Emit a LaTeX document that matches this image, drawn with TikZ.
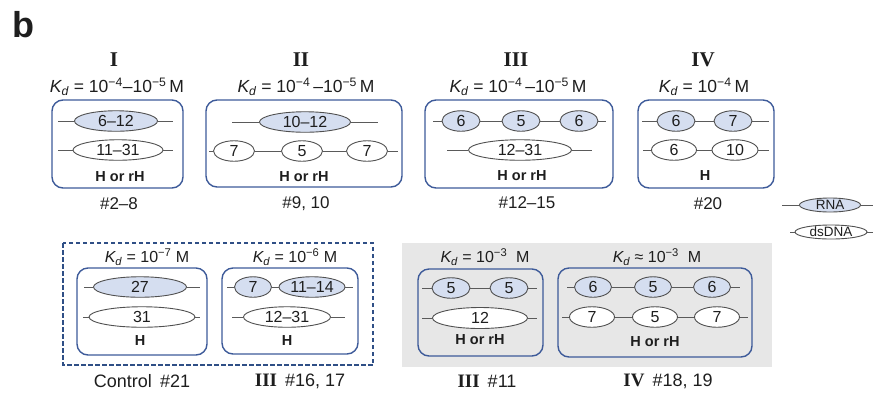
\documentclass[tikz,border=0pt]{standalone}
\usepackage{fontspec}
\setmainfont{Liberation Sans}
\newfontfamily\romfont{Liberation Serif}
\usetikzlibrary{shapes.geometric}
\definecolor{boxblue}{HTML}{3D5A99}
\definecolor{dashblue}{HTML}{2F4F86}
\definecolor{rnafill}{HTML}{D5DEF0}
\definecolor{elgray}{HTML}{505050}
\definecolor{linegray}{HTML}{5A5A5A}
\definecolor{graybg}{HTML}{E7E7E7}
\definecolor{txt}{HTML}{1E1E1E}
\newcommand{\KdSym}{{\itshape K}\textsubscript{\itshape d}}
\newcommand{\sps}[1]{\textsuperscript{#1}}
\newcommand{\romsmall}[1]{{\romfont\bfseries\fontsize{19}{19}\selectfont #1}}
\tikzset{
  seg/.style={ellipse, draw=elgray, line width=0.9pt, inner sep=0pt, minimum height=20.5pt,
    text=txt, font=\fontsize{16}{16}\selectfont},
  rna/.style={seg, fill=rnafill},
  dna/.style={seg, fill=white},
  lrna/.style={rna, minimum height=14pt, font=\fontsize{13.5}{13.5}\selectfont},
  ldna/.style={dna, minimum height=14pt, font=\fontsize{13.5}{13.5}\selectfont},
  strand/.style={draw=linegray, line width=0.9pt},
  grp/.style={draw=boxblue, line width=1.4pt, rounded corners=11pt},
  roman/.style={text=txt, font=\fontsize{21}{21}\selectfont\romfont\bfseries},
  kd/.style={text=txt, font=\fontsize{17.5}{17.5}\selectfont},
  kds/.style={text=txt, font=\fontsize{16}{16}\selectfont},
  htxt/.style={text=txt, font=\fontsize{14.5}{14.5}\selectfont\bfseries},
  num/.style={text=txt, font=\fontsize{17}{17}\selectfont},
  num2/.style={text=txt, font=\fontsize{18}{18}\selectfont},
}
\begin{document}
\begin{tikzpicture}[x=1pt,y=-1pt]
\useasboundingbox (0,0) rectangle (873,392);
\node[text=txt, font=\fontsize{36}{36}\selectfont\bfseries] (blabel) at (23,25) {b};

% ---------------- Group I
\node[roman] (rI) at (114,60) {I};
\node[kd] (kI) at (117,87) {\KdSym{} = 10\sps{−4}–10\sps{−5}\,M};
\draw[grp] (52,100) rectangle (183,188);
\coordinate (Ia1) at (58,121); \coordinate (Ia2) at (173,121);
\node[rna, minimum width=83pt] (Ie1) at (116,121) {6–12};
\draw[strand] (Ia1) -- (Ie1) -- (Ia2);
\coordinate (Ib1) at (58,150); \coordinate (Ib2) at (173,150);
\node[dna, minimum width=90pt] (If1) at (118,150) {11–31};
\draw[strand] (Ib1) -- (If1) -- (Ib2);
\node[htxt] (Ih) at (120,177) {H or rH};
\node[num] (In) at (119,204) {\#2–8};

% ---------------- Group II
\node[roman] (rII) at (301,60) {II};
\node[kd] (kII) at (306,87) {\KdSym{} = 10\sps{−4}\,–10\sps{−5}\,M};
\draw[grp] (206,100) rectangle (402,187);
\coordinate (IIa1) at (232,122); \coordinate (IIa2) at (378,122);
\node[rna, minimum width=91pt] (IIe1) at (305,122) {10–12};
\draw[strand] (IIa1) -- (IIe1) -- (IIa2);
\coordinate (IIb1) at (209,151); \coordinate (IIb2) at (398,151);
\node[dna, minimum width=41pt] (IIf1) at (234,151) {7};
\node[dna, minimum width=41pt] (IIf2) at (302,151) {5};
\node[dna, minimum width=41pt] (IIf3) at (367,151) {7};
\draw[strand] (IIb1) -- (IIf1) -- (IIf2) -- (IIf3) -- (IIb2);
\node[htxt] (IIh) at (304,177) {H or rH};
\node[num] (IIn) at (306,204) {\#9, 10};

% ---------------- Group III
\node[roman] (rIII) at (516,60) {III};
\node[kd] (kIII) at (518,87) {\KdSym{} = 10\sps{−4}\,–10\sps{−5}\,M};
\draw[grp] (425,100) rectangle (613,188);
\coordinate (IIIa1) at (433,121); \coordinate (IIIa2) at (606,121);
\node[rna, minimum width=38pt] (IIIe1) at (461,121) {6};
\node[rna, minimum width=38pt] (IIIe2) at (521,121) {5};
\node[rna, minimum width=38pt] (IIIe3) at (579,121) {6};
\draw[strand] (IIIa1) -- (IIIe1) -- (IIIe2) -- (IIIe3) -- (IIIa2);
\coordinate (IIIb1) at (447,150); \coordinate (IIIb2) at (592,150);
\node[dna, minimum width=103pt] (IIIf1) at (520,150) {12–31};
\draw[strand] (IIIb1) -- (IIIf1) -- (IIIb2);
\node[htxt] (IIIh) at (522,176) {H or rH};
\node[num] (IIIn) at (527,203) {\#12–15};

% ---------------- Group IV
\node[roman] (rIV) at (703,60) {IV};
\node[kd] (kIV) at (704,87) {\KdSym{} = 10\sps{−4}\,M};
\draw[grp] (638,100) rectangle (774,188);
\coordinate (IVa1) at (642,121); \coordinate (IVa2) at (769,121);
\node[rna, minimum width=38pt] (IVe1) at (676,121) {6};
\node[rna, minimum width=38pt] (IVe2) at (733,121) {7};
\draw[strand] (IVa1) -- (IVe1) -- (IVe2) -- (IVa2);
\coordinate (IVb1) at (643,150); \coordinate (IVb2) at (769,150);
\node[dna, minimum width=45pt] (IVf1) at (674,150) {6};
\node[dna, minimum width=46pt] (IVf2) at (735,150) {10};
\draw[strand] (IVb1) -- (IVf1) -- (IVf2) -- (IVb2);
\node[htxt] (IVh) at (705,176) {H};
\node[num] (IVn) at (708,204) {\#20};

% ---------------- Legend
\coordinate (La1) at (782,205); \coordinate (La2) at (873,205);
\node[lrna, minimum width=61pt] (Le1) at (830,205) {RNA};
\draw[strand] (La1) -- (Le1) -- (La2);
\coordinate (Lb1) at (790,232); \coordinate (Lb2) at (873,232);
\node[ldna, minimum width=72pt] (Lf1) at (831,232) {dsDNA};
\draw[strand] (Lb1) -- (Lf1) -- (Lb2);

% ---------------- Dashed control frame
\draw[draw=dashblue, line width=1.6pt, dash pattern=on 4.5pt off 2.5pt] (63,243) rectangle (373,365);

% Control
\node[kds] (kC) at (147,257) {\KdSym{} = 10\sps{−7} M};
\draw[grp] (77,268) rectangle (207,355);
\coordinate (Ca1) at (84,287); \coordinate (Ca2) at (200,287);
\node[rna, minimum width=93pt] (Ce1) at (140,287) {27};
\draw[strand] (Ca1) -- (Ce1) -- (Ca2);
\coordinate (Cb1) at (83,317); \coordinate (Cb2) at (200,317);
\node[dna, minimum width=106pt] (Cf1) at (142,317) {31};
\draw[strand] (Cb1) -- (Cf1) -- (Cb2);
\node[htxt] (Ch) at (140,341) {H};
\node[num2] (Cn) at (142,381) {Control\hspace{0.45em}\#21};

% III #16,17
\node[kds] (kD) at (295,257) {\KdSym{} = 10\sps{−6} M};
\draw[grp] (222,268) rectangle (358,354);
\coordinate (Da1) at (227,287); \coordinate (Da2) at (353,287);
\node[rna, minimum width=37pt] (De1) at (253,287) {7};
\node[rna, minimum width=66pt] (De2) at (312,287) {11–14};
\draw[strand] (Da1) -- (De1) -- (De2) -- (Da2);
\coordinate (Db1) at (232,317); \coordinate (Db2) at (345,317);
\node[dna, minimum width=87pt] (Df1) at (287,317) {12–31};
\draw[strand] (Db1) -- (Df1) -- (Db2);
\node[htxt] (Dh) at (287,341) {H};
\node[num2] (Dn) at (300,381) {\romsmall{III}\, \#16, 17};

% ---------------- Gray panel
\fill[graybg] (402,243) rectangle (772,367);

% III #11
\node[kds] (kE) at (485,257) {\KdSym{} = 10\sps{−3}\ \ M};
\draw[grp] (418,269) rectangle (543,356);
\coordinate (Ea1) at (422,288); \coordinate (Ea2) at (537,288);
\node[rna, minimum width=38pt] (Ee1) at (451,288) {5};
\node[rna, minimum width=38pt] (Ee2) at (509,288) {5};
\draw[strand] (Ea1) -- (Ee1) -- (Ee2) -- (Ea2);
\coordinate (Eb1) at (422,318); \coordinate (Eb2) at (537,318);
\node[dna, minimum width=95pt, minimum height=21pt] (Ef1) at (480,318) {12};
\draw[strand] (Eb1) -- (Ef1) -- (Eb2);
\node[htxt] (Eh) at (480,340) {H or rH};
\node[num2] (En) at (487,381) {\romsmall{III}\, \#11};

% IV #18,19
\node[kds] (kF) at (657,257) {\KdSym{} ≈ 10\sps{−3}\ \ M};
\draw[grp] (558,268) rectangle (752,357);
\coordinate (Fa1) at (567,287); \coordinate (Fa2) at (740,287);
\node[rna, minimum width=37pt] (Fe1) at (593,287) {6};
\node[rna, minimum width=37pt] (Fe2) at (653,287) {5};
\node[rna, minimum width=37pt] (Fe3) at (712,287) {6};
\draw[strand] (Fa1) -- (Fe1) -- (Fe2) -- (Fe3) -- (Fa2);
\coordinate (Fb1) at (562,317); \coordinate (Fb2) at (748,317);
\node[dna, minimum width=45pt] (Ff1) at (592,317) {7};
\node[dna, minimum width=45pt] (Ff2) at (655,317) {5};
\node[dna, minimum width=45pt] (Ff3) at (717,317) {7};
\draw[strand] (Fb1) -- (Ff1) -- (Ff2) -- (Ff3) -- (Fb2);
\node[htxt] (Fh) at (655,342) {H or rH};
\node[num2] (Fn) at (668,381) {\romsmall{IV}\, \#18, 19};
\end{tikzpicture}
\end{document}
